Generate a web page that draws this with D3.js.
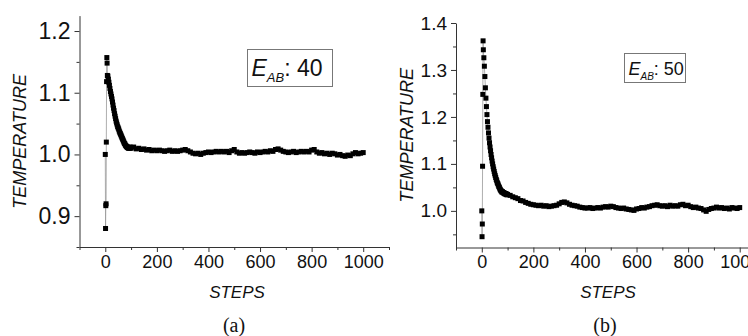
<!DOCTYPE html>
<html>
<head>
<meta charset="utf-8">
<script src="https://cdn.jsdelivr.net/npm/d3@7"></script>
<style>
  body { margin: 0; background: #fff; }
  text { font-family: "Liberation Sans", Arial, sans-serif; fill: #111; }
</style>
</head>
<body>
<svg class="chart"></svg>
<script>
let width = 748,
  height = 336;

// panel (a), E_AB = 40 : first steps, then decay every 2 steps, then every 10 steps
let startStepsA = [0, 1, 2, 3, 4, 5, 6, 7, 8];
let startTempA = [1.0, 0.88, 0.917, 0.92, 1.02, 1.118, 1.157, 1.148, 1.128];
let decayTempA = [
  1.127, 1.122, 1.117, 1.112, 1.107, 1.102, 1.098, 1.094, 1.09, 1.085,
  1.08, 1.075, 1.071, 1.066, 1.062, 1.058, 1.054, 1.051, 1.048, 1.045,
  1.043, 1.041, 1.038, 1.036, 1.034, 1.032, 1.03, 1.028, 1.026, 1.024,
  1.022, 1.02, 1.018, 1.017, 1.015, 1.014, 1.013, 1.012, 1.011, 1.012,
  1.01, 1.011, 1.01, 1.012, 1.011, 1.01
]; // steps 10..100
let flatTempA = [
  1.012, 1.009, 1.01, 1.008, 1.009, 1.007, 1.008, 1.006, 1.007, 1.006,
  1.007, 1.006, 1.005, 1.006, 1.007, 1.005, 1.006, 1.005, 1.006, 1.007,
  1.008, 1.006, 1.004, 1.002, 1.001, 1.002, 1.0, 1.002, 1.003, 1.004,
  1.003, 1.004, 1.005, 1.004, 1.005, 1.004, 1.005, 1.003, 1.006, 1.008,
  1.004, 1.002, 1.003, 1.002, 1.003, 1.004, 1.003, 1.002, 1.004, 1.003,
  1.004, 1.005, 1.004, 1.006, 1.005, 1.008, 1.009, 1.007, 1.005, 1.004,
  1.003, 1.004, 1.005, 1.003, 1.004, 1.005, 1.004, 1.005, 1.004, 1.007,
  1.008, 1.004, 1.002, 1.003, 1.001, 1.002, 1.0, 1.002, 1.001, 0.999,
  1.0, 0.998, 0.997, 0.999, 0.998, 1.001, 1.003, 1.001, 1.002, 1.003
]; // steps 110..1000

// panel (b), E_AB = 50
let startStepsB = [0, 1, 2, 3, 4, 5];
let startTempB = [1.0, 0.945, 0.972, 1.095, 1.248, 1.362];
let decayTempB = [
  1.343, 1.326, 1.308, 1.286, 1.262, 1.24, 1.222, 1.205, 1.19, 1.178,
  1.166, 1.155, 1.145, 1.136, 1.128, 1.12, 1.113, 1.106, 1.1, 1.094,
  1.089, 1.084, 1.079, 1.075, 1.071, 1.067, 1.064, 1.06, 1.058, 1.055,
  1.052, 1.05, 1.047, 1.045, 1.043, 1.042, 1.04, 1.041, 1.039, 1.038,
  1.039, 1.037, 1.036, 1.037, 1.035, 1.036, 1.034, 1.035
]; // steps 6..100
let flatTempB = [
  1.033, 1.03, 1.028, 1.026, 1.022, 1.021, 1.018, 1.016, 1.014, 1.013,
  1.012, 1.011, 1.012, 1.01, 1.011, 1.009, 1.01, 1.011, 1.012, 1.015,
  1.018, 1.019, 1.017, 1.014, 1.012, 1.011, 1.01, 1.008, 1.007, 1.006,
  1.006, 1.007, 1.005, 1.006, 1.007, 1.006, 1.008, 1.009, 1.008, 1.01,
  1.009, 1.007, 1.006, 1.005, 1.006, 1.004, 1.003, 1.002, 1.001, 1.004,
  1.005, 1.007, 1.006, 1.008, 1.009, 1.011, 1.012, 1.013, 1.011, 1.01,
  1.011, 1.009, 1.012, 1.01, 1.011, 1.01, 1.013, 1.014, 1.011, 1.012,
  1.009, 1.007, 1.008, 1.006, 1.005, 1.002, 0.999, 1.003, 1.005, 1.006,
  1.008, 1.006, 1.007, 1.005, 1.006, 1.004, 1.007, 1.006, 1.005, 1.007
]; // steps 110..1000

let xTicks = [0, 200, 400, 600, 800, 1000];
let xMinor = [-100, 100, 300, 500, 700, 900, 1100];
let yTicksA = [0.9, 1.0, 1.1, 1.2];
let yMinorA = [0.85, 0.95, 1.05, 1.15];
let yTicksB = [1.0, 1.1, 1.2, 1.3, 1.4];
let yMinorB = [0.95, 1.05, 1.15, 1.25, 1.35];

function buildSeries(startSteps, startTemp, decayFirst, decayTemp, flatTemp) {
  let pts = startSteps.map((s, i) => ({ step: s, t: startTemp[i] }));
  decayTemp.forEach((t, i) => pts.push({ step: decayFirst + i * 2, t: t }));
  flatTemp.forEach((t, i) => pts.push({ step: 110 + i * 10, t: t }));
  return pts;
}

let seriesA = buildSeries(startStepsA, startTempA, 10, decayTempA, flatTempA);
let seriesB = buildSeries(startStepsB, startTempB, 6, decayTempB, flatTempB);

let svg = d3.select(".chart").attr("width", width).attr("height", height);

function drawPanel(cfg) {
  let x = d3.scaleLinear().domain([-100, 1100]).range(cfg.xRange);
  let y = d3.scaleLinear().domain(cfg.yDomain).range(cfg.yRange);
  let g = svg.append("g");

  // minor ticks
  g.append("g")
    .attr("transform", `translate(0,${cfg.yRange[0]})`)
    .call(d3.axisBottom(x).tickValues(xMinor).tickSize(3).tickFormat(""))
    .call((a) => a.select(".domain").remove());
  g.append("g")
    .attr("transform", `translate(${cfg.xRange[0]},0)`)
    .call(d3.axisLeft(y).tickValues(cfg.yMinor).tickSize(3).tickFormat(""))
    .call((a) => a.select(".domain").remove());

  let xAxis = g.append("g")
    .attr("transform", `translate(0,${cfg.yRange[0]})`)
    .call(d3.axisBottom(x).tickValues(xTicks).tickSize(5).tickSizeOuter(0)
      .tickPadding(3).tickFormat(d3.format("d")));
  xAxis.selectAll("text").style("font-size", cfg.xFont + "px");

  let yAxis = g.append("g")
    .attr("transform", `translate(${cfg.xRange[0]},0)`)
    .call(d3.axisLeft(y).tickValues(cfg.yTicks).tickSize(5).tickSizeOuter(0)
      .tickPadding(4).tickFormat(d3.format(".1f")));
  yAxis.selectAll("text").style("font-size", cfg.yFont + "px");

  g.selectAll(".domain, .tick line").attr("stroke", "#333");

  // thin connecting line
  let line = d3.line().x((d) => x(d.step)).y((d) => y(d.t));
  g.append("path")
    .datum(cfg.data)
    .attr("d", line)
    .attr("fill", "none")
    .attr("stroke", "#999")
    .attr("stroke-width", 0.8);

  // square markers
  let m = 5;
  g.append("g")
    .selectAll("rect")
    .data(cfg.data)
    .enter()
    .append("rect")
    .attr("x", (d) => x(d.step) - m / 2)
    .attr("y", (d) => y(d.t) - m / 2)
    .attr("width", m)
    .attr("height", m)
    .attr("fill", "#000");

  // axis titles
  g.append("text")
    .attr("transform", `translate(${cfg.yTitleX},${(cfg.yRange[0] + cfg.yRange[1]) / 2 + cfg.yTitleShift}) rotate(-90)`)
    .attr("text-anchor", "middle")
    .style("font-size", "18px")
    .style("font-style", "italic")
    .text("TEMPERATURE");

  g.append("text")
    .attr("x", cfg.stepsX)
    .attr("y", 298)
    .attr("text-anchor", "middle")
    .style("font-size", "17px")
    .style("font-style", "italic")
    .text("STEPS");

  g.append("text")
    .attr("x", cfg.stepsX - 3)
    .attr("y", 332)
    .attr("text-anchor", "middle")
    .style("font-family", "'Liberation Serif', 'Times New Roman', serif")
    .style("font-size", "20px")
    .text(cfg.caption);

  // legend box
  let lb = cfg.legend;
  g.append("rect")
    .attr("x", lb.x)
    .attr("y", lb.y)
    .attr("width", lb.w)
    .attr("height", lb.h)
    .attr("fill", "#fff")
    .attr("stroke", "#777")
    .attr("stroke-width", 1);
  let lt = g.append("text")
    .attr("x", lb.x + 4)
    .attr("y", lb.y + lb.base)
    .style("font-size", lb.font + "px");
  lt.append("tspan").style("font-style", "italic").text("E");
  lt.append("tspan").style("font-style", "italic").style("font-size", lb.sub + "px")
    .attr("dy", lb.font * 0.3).text("AB");
  lt.append("tspan").attr("dy", -lb.font * 0.3).text(": " + lb.value);
}

drawPanel({
  data: seriesA,
  xRange: [79.5, 389],
  yDomain: [0.85, 1.225],
  yRange: [247, 15.6],
  yTicks: yTicksA,
  yMinor: yMinorA,
  xFont: 18,
  yFont: 23,
  yTitleX: 26,
  yTitleShift: 10,
  stepsX: 237,
  caption: "(a)",
  legend: { x: 247.5, y: 49.5, w: 85, h: 37, font: 23, sub: 13, base: 26, value: 40 },
});

drawPanel({
  data: seriesB,
  xRange: [456, 765.5],
  yDomain: [0.922, 1.4],
  yRange: [247.5, 23],
  yTicks: yTicksB,
  yMinor: yMinorB,
  xFont: 18,
  yFont: 19,
  yTitleX: 413,
  yTitleShift: 0,
  stepsX: 608,
  caption: "(b)",
  legend: { x: 624.5, y: 53.5, w: 61, h: 29, font: 18, sub: 10, base: 21, value: 50 },
});
</script>
</body>
</html>
